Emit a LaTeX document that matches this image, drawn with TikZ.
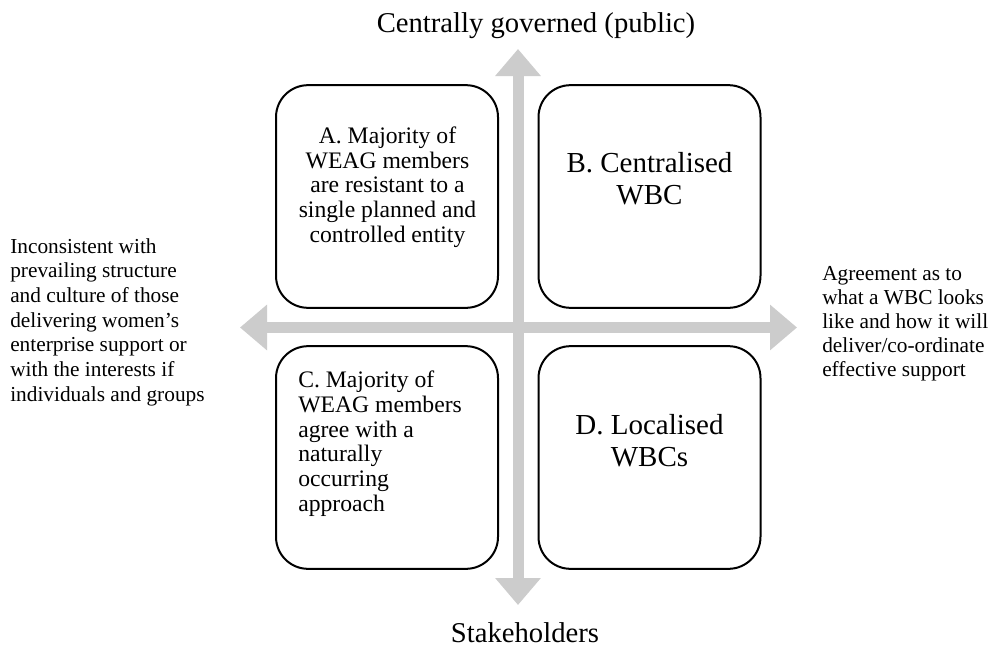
\documentclass[tikz,border=0pt]{standalone}
\usepackage{fontspec}
\setmainfont{Liberation Serif}
\usetikzlibrary{arrows.meta}
\definecolor{axisgray}{RGB}{204,204,204}
\begin{document}
\begin{tikzpicture}[x=0.75pt,y=-0.75pt,
  axis/.style={draw=axisgray, line width=8.25pt,
    {Triangle[width=33pt,length=20.25pt]}-{Triangle[width=33pt,length=20.25pt]}},
  quad/.style={draw=black, line width=1.5pt, rounded corners=24pt,
    minimum width=166.5pt, minimum height=167pt, inner sep=0pt},
  boxtxt/.style={font=\fontsize{17.75}{18.5}\selectfont, inner sep=0pt},
  sidetxt/.style={font=\fontsize{16}{18.5}\selectfont, inner sep=0pt, align=left, anchor=west},
  bigtxt/.style={font=\fontsize{21.75}{24}\selectfont, inner sep=0pt, align=center},
  axislabel/.style={font=\fontsize{21.5}{24}\selectfont, inner sep=0pt, anchor=base}]
\fill[white] (0,0) rectangle (990,650);
\useasboundingbox (0,0) rectangle (990,650);

% axes
\coordinate (top) at (518,49);
\coordinate (bottom) at (518,605);
\coordinate (left) at (240,327.5);
\coordinate (right) at (797,327.5);
\draw[axis] (bottom) -- (top);
\draw[axis] (left) -- (right);

% quadrant boxes
\node[quad] (A) at (387,196.5) {};
\node[quad] (B) at (649.5,196.5) {};
\node[quad] (C) at (387,457.5) {};
\node[quad] (D) at (649.5,457.5) {};

% box texts
\node[boxtxt, align=center, anchor=north] (Atext) at (387.5,126.5)
  {A. Majority of\\WEAG members\\are resistant to a\\single planned and\\controlled entity};
\node[bigtxt, anchor=north] (Btext) at (649.5,152) {B. Centralised\\WBC};
\node[boxtxt, align=left, anchor=north west] (Ctext) at (298,371)
  {C. Majority of\\WEAG members\\agree with a\\naturally\\occurring\\approach};
\node[bigtxt, anchor=north] (Dtext) at (649.5,414) {D. Localised\\WBCs};

% axis labels
\node[axislabel] (title) at (536,32) {Centrally governed (public)};
\node[axislabel] (stake) at (525,642) {Stakeholders};
\node[sidetxt] (ltext) at (10,322)
  {Inconsistent with\\prevailing structure\\and culture of those\\delivering women’s\\enterprise support or\\with the interests if\\individuals and groups};
\node[sidetxt, font=\fontsize{16}{18}\selectfont] (rtext) at (822,324)
  {Agreement as to\\what a WBC looks\\like and how it will\\deliver/co-ordinate\\effective support};
\end{tikzpicture}
\end{document}
